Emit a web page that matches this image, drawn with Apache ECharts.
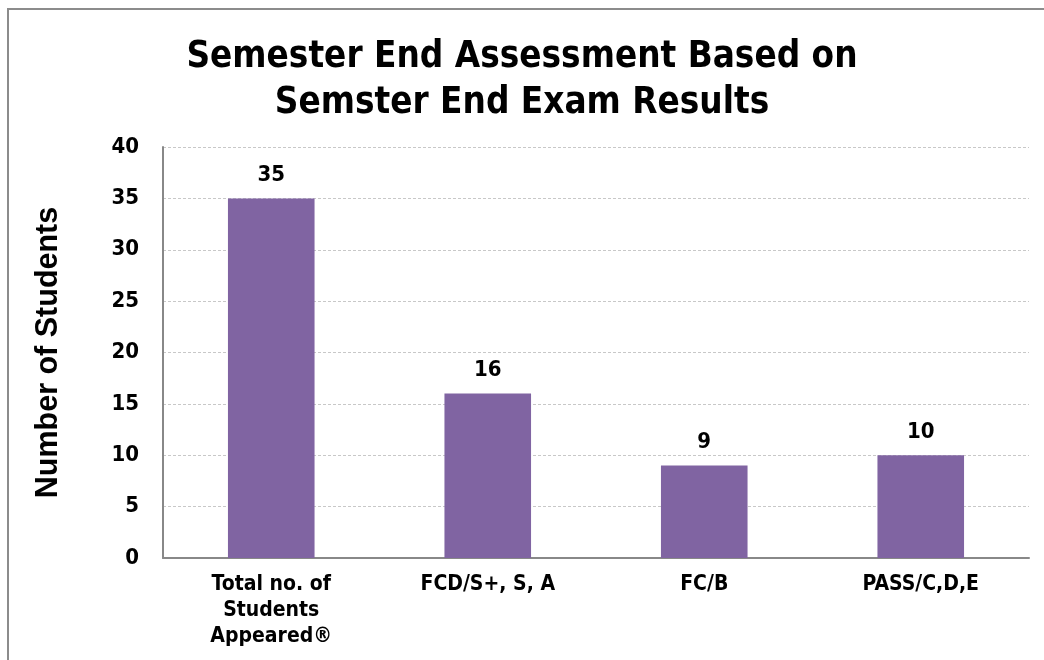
<!DOCTYPE html>
<html>
<head>
<meta charset="utf-8">
<script src="https://cdn.jsdelivr.net/npm/echarts@6/dist/echarts.min.js"></script>
<style>
  html, body { margin: 0; padding: 0; background: #fff; }
  #chart { width: 1044px; height: 660px; }
</style>
</head>
<body>
<div id="chart"></div>
<script>
var categories = ['Total no. of\nStudents\nAppeared®', 'FCD/S+, S, A', 'FC/B', 'PASS/C,D,E'];
var students = [35, 16, 9, 10];
var titleLines = ['Semester End Assessment Based on', 'Semster End Exam Results'];
var yName = 'Number of Students';

var mainFont = "'DejaVu Sans Condensed', 'DejaVu Sans', sans-serif";

var myChart = echarts.init(document.getElementById('chart'));
var option = {
    backgroundColor: '#fff',
    animation: false,
    title: {
        text: titleLines.join('\n'),
        left: 'center',
        top: 30,
        textStyle: {
            fontFamily: mainFont,
            fontWeight: 'bold',
            fontSize: 36.5,
            lineHeight: 46,
            color: '#000'
        }
    },
    graphic: [{
        type: 'rect',
        shape: { x: 8, y: 9, width: 1100, height: 700 },
        style: { fill: 'none', stroke: '#8c8c8c', lineWidth: 2 },
        silent: true
    }],
    grid: {
        left: 163,
        right: 15,
        top: 147,
        bottom: 102
    },
    xAxis: [{
        type: 'category',
        data: categories,
        axisLine: { lineStyle: { color: '#888', width: 2 } },
        axisTick: { show: false },
        axisLabel: {
            interval: 0,
            margin: 14,
            fontFamily: mainFont,
            fontWeight: 'bold',
            fontSize: 21,
            lineHeight: 26,
            color: '#000'
        }
    }],
    yAxis: [{
        type: 'value',
        min: 0,
        max: 40,
        interval: 5,
        name: yName,
        nameLocation: 'middle',
        nameGap: 99,
        nameTextStyle: {
            fontFamily: "'Liberation Sans', Arial, sans-serif",
            fontWeight: 'bold',
            fontSize: 30.5,
            color: '#000'
        },
        axisLine: { show: true, lineStyle: { color: '#888', width: 2 } },
        axisTick: { show: false },
        axisLabel: {
            margin: 24,
            fontFamily: mainFont,
            fontWeight: 'bold',
            fontSize: 22,
            color: '#000'
        },
        splitLine: {
            lineStyle: { color: '#c8c8c8', type: [3, 2], width: 1 }
        }
    }],
    series: [{
        name: yName,
        type: 'bar',
        barWidth: '40%',
        itemStyle: { color: '#8064A2' },
        label: {
            show: true,
            position: 'top',
            distance: 12,
            fontFamily: mainFont,
            fontWeight: 'bold',
            fontSize: 22,
            color: '#000'
        },
        data: students
    }]
};
myChart.setOption(option);
</script>
</body>
</html>
